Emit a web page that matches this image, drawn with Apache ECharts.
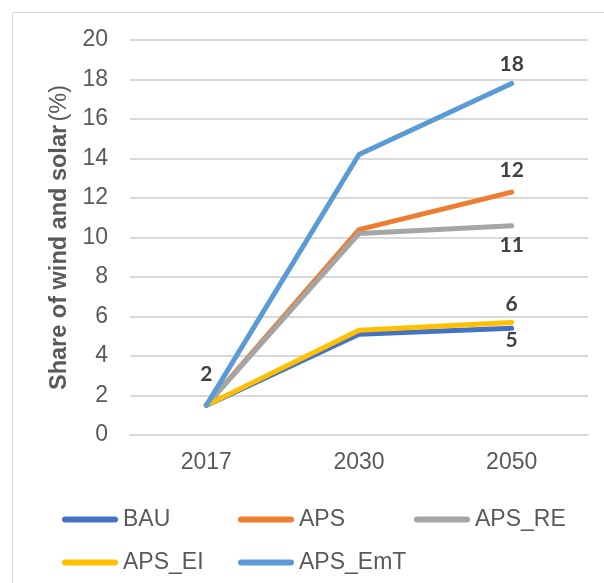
<!DOCTYPE html>
<html>
<head>
<meta charset="utf-8">
<script src="https://cdn.jsdelivr.net/npm/echarts@6/dist/echarts.min.js"></script>
<style>
  html, body { margin: 0; padding: 0; background: #fff; }
  #main { width: 604px; height: 583px; }
</style>
</head>
<body>
<div id="main"></div>
<script>
var years = ['2017', '2030', '2050'];
var seriesNames = ['BAU', 'APS', 'APS_RE', 'APS_EI', 'APS_EmT'];
var bau = [1.5, 5.1, 5.4];
var aps = [1.5, 10.4, 12.3];
var apsRe = [1.5, 10.2, 10.6];
var apsEi = [1.5, 5.3, 5.7];
var apsEmt = [1.5, 14.2, 17.8];
var colors = ['#4472C4', '#ED7D31', '#A5A5A5', '#FFC000', '#5B9BD5'];

var myChart = echarts.init(document.getElementById('main'));

// label on the last point only, above or below it
function lastLabel(values, pos, dist) {
    return values.map(function (v, i) {
        if (i !== values.length - 1) return v;
        return { value: v, label: { show: true, position: pos, distance: dist } };
    });
}

var labelStyle = {
    show: false,
    fontFamily: 'Lato',
    fontWeight: 'bold',
    fontSize: 21,
    color: '#404040',
    formatter: function (p) { return Math.round(p.value); }
};

function makeSeries(name, data, color) {
    return {
        name: name,
        type: 'line',
        data: data,
        symbol: 'circle',
        symbolSize: 1,
        itemStyle: { color: color },
        lineStyle: { width: 5, color: color, cap: 'round', join: 'round' },
        label: labelStyle,
        emphasis: { disabled: true }
    };
}

var emtData = lastLabel(apsEmt, 'top', 8);
emtData[0] = { value: apsEmt[0], label: { show: true, position: 'top', distance: 20 } };

option = {
    animation: false,
    color: colors,
    graphic: [{
        type: 'rect',
        shape: { x: 12.5, y: 12.5, width: 640, height: 640 },
        style: { fill: 'none', stroke: '#d9d9d9', lineWidth: 1 }
    }],
    grid: {
        left: 130,
        right: 16,
        top: 40,
        bottom: 148
    },
    legend: {
        data: seriesNames,
        left: 57,
        top: 493,
        width: 540,
        itemGap: 0,
        itemWidth: 56,
        itemHeight: 6,
        icon: 'path://M3,0 L53,0 A3,3 0 0 1 53,6 L3,6 A3,3 0 0 1 3,0 Z',
        textStyle: {
            fontFamily: 'Liberation Sans',
            fontSize: 23,
            color: '#595959',
            width: 115,
            lineHeight: 43
        }
    },
    xAxis: [{
        type: 'category',
        data: years,
        boundaryGap: true,
        axisLine: { show: true, lineStyle: { color: '#d9d9d9', width: 2 } },
        axisTick: { show: false },
        axisLabel: {
            margin: 16,
            fontFamily: 'Liberation Sans',
            fontSize: 23,
            color: '#595959'
        }
    }],
    yAxis: [{
        type: 'value',
        min: 0,
        max: 20,
        interval: 2,
        name: '{b|Share of wind and solar} {n|(%)}',
        nameLocation: 'middle',
        nameGap: 56,
        nameTextStyle: {
            rich: {
                b: { fontFamily: 'Liberation Sans', fontWeight: 'bold', fontSize: 23.5, color: '#595959' },
                n: { fontFamily: 'Liberation Sans', fontSize: 23.5, color: '#595959' }
            }
        },
        axisLine: { show: false },
        axisTick: { show: false },
        splitLine: { lineStyle: { color: '#d9d9d9', width: 2 } },
        axisLabel: {
            margin: 22,
            fontFamily: 'Liberation Sans',
            fontSize: 23,
            color: '#595959'
        }
    }],
    series: [
        makeSeries('BAU', lastLabel(bau, 'bottom', 1), colors[0]),
        makeSeries('APS', lastLabel(aps, 'top', 11), colors[1]),
        makeSeries('APS_RE', lastLabel(apsRe, 'bottom', 9), colors[2]),
        makeSeries('APS_EI', lastLabel(apsEi, 'top', 7), colors[3]),
        makeSeries('APS_EmT', emtData, colors[4])
    ]
};

myChart.setOption(option);
</script>
</body>
</html>
